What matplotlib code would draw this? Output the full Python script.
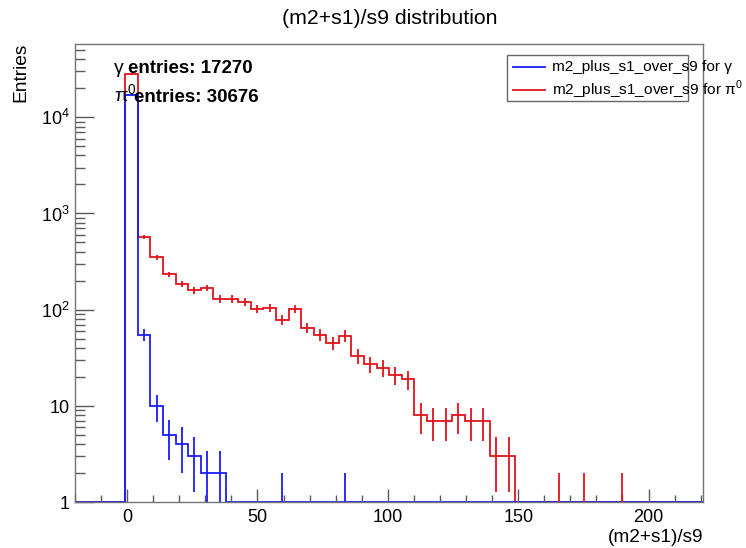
import numpy as np
import matplotlib
matplotlib.use('Agg')
import matplotlib.pyplot as plt
from matplotlib.ticker import FixedLocator, FixedFormatter, MultipleLocator, LogLocator, NullFormatter

plt.rcParams['font.family'] = ['Liberation Sans', 'DejaVu Sans']
plt.rcParams['mathtext.fontset'] = 'custom'
plt.rcParams['mathtext.rm'] = 'Liberation Sans'

# 50 bins between -20 and 221
x_lo, x_hi, nbins = -20.0, 221.0, 50
edges = np.linspace(x_lo, x_hi, nbins + 1)

# bin contents (index -> count)
gamma_counts = {4: 17188, 5: 55, 6: 10, 7: 5, 8: 4, 9: 3, 10: 2, 11: 2, 16: 1, 21: 1}
pi0_counts = {4: 27843, 5: 570, 6: 350, 7: 233, 8: 184, 9: 160, 10: 169, 11: 130,
              12: 130, 13: 121, 14: 103, 15: 105, 16: 79, 17: 102, 18: 65, 19: 55,
              20: 45, 21: 54, 22: 33, 23: 27, 24: 25, 25: 21, 26: 19, 27: 8, 28: 7,
              29: 7, 30: 8, 31: 7, 32: 7, 33: 3, 34: 3, 38: 1, 40: 1, 43: 1}
gamma_entries = 17270
pi0_entries = 30676

def to_array(d):
    a = np.zeros(nbins)
    for k, v in d.items():
        a[k] = v
    return a

h_gamma = to_array(gamma_counts)
h_pi0 = to_array(pi0_counts)

y_lo, y_hi = 1.0, 10 ** 4.76
red = '#e3121b'
blue = '#1a1aff'

fig = plt.figure(figsize=(7.46, 5.48), dpi=100)
ax = fig.add_axes([75 / 746, 1 - 502.3 / 548, (703.3 - 75) / 746, (502.3 - 44) / 548])
ax.set_yscale('log')
ax.set_xlim(x_lo, x_hi)
ax.set_ylim(y_lo, y_hi)

centers = 0.5 * (edges[:-1] + edges[1:])

def draw_hist(h, col):
    shown = np.where(h > 0, h, y_lo)
    ax.stairs(shown, edges, color=col, lw=1.3, baseline=None, clip_on=False)
    m = h > 0
    err = np.sqrt(h[m])
    lo = np.maximum(h[m] - err, 0.3)
    ax.vlines(centers[m], lo, h[m] + err, color=col, lw=1.3)

draw_hist(h_pi0, red)
draw_hist(h_gamma, blue)

# axes styling (ROOT look)
for s in ax.spines.values():
    s.set_color('0.45')
    s.set_linewidth(1.0)

ax.xaxis.set_major_locator(MultipleLocator(50))
ax.xaxis.set_minor_locator(MultipleLocator(10))
ax.tick_params(axis='x', which='major', direction='in', length=9.5, width=1, color='0.35',
               labelsize=13, pad=5)
ax.tick_params(axis='x', which='minor', direction='in', length=5, width=1, color='0.35')

ytick_vals = [1, 10, 100, 1000, 10000]
ytick_labs = ['1', '10', r'$\mathregular{10^{2}}$', r'$\mathregular{10^{3}}$', r'$\mathregular{10^{4}}$']
ax.yaxis.set_major_locator(FixedLocator(ytick_vals))
ax.yaxis.set_major_formatter(FixedFormatter(ytick_labs))
ax.yaxis.set_minor_locator(LogLocator(base=10, subs=np.arange(2, 10)))
ax.yaxis.set_minor_formatter(NullFormatter())
ax.tick_params(axis='y', which='major', direction='in', length=13.5, width=1, color='0.35',
               labelsize=13, pad=4)
ax.tick_params(axis='y', which='minor', direction='in', length=7, width=1, color='0.35')

fig.text(390 / 746, 1 - 18 / 548, '(m2+s1)/s9 distribution', ha='center', va='center', fontsize=15.3)
fig.text(703 / 746, 1 - 537 / 548, '(m2+s1)/s9', ha='right', va='center', fontsize=13.7)
fig.text(21 / 746, 1 - 43 / 548, 'Entries', ha='center', va='top', rotation=90, fontsize=13.8)

fig.text(114 / 746, 1 - 73 / 548, 'γ', fontsize=14)
fig.text(128 / 746, 1 - 73 / 548, 'entries: %d' % gamma_entries, fontsize=13.5, fontweight='bold')
fig.text(114 / 746, 1 - 101.7 / 548, 'π$^{0}$', fontsize=14)
fig.text(134 / 746, 1 - 101.7 / 548, 'entries: %d' % pi0_entries, fontsize=13.5, fontweight='bold')

# legend box and entries, ROOT style
box = plt.Rectangle((506.7 / 746, 1 - 100.7 / 548), (687.5 - 506.7) / 746, (100.7 - 55) / 548,
                    transform=fig.transFigure, fill=False, edgecolor='0.4', lw=1.0)
fig.add_artist(box)
leg_rows = [(66.7, blue, 'm2_plus_s1_over_s9 for γ'),
            (90.0, red, 'm2_plus_s1_over_s9 for π$^{0}$')]
for yy, col, txt in leg_rows:
    yf = 1 - yy / 548
    fig.add_artist(plt.Line2D([513 / 746, 545 / 746], [yf, yf], color=col, lw=1.3,
                              transform=fig.transFigure))
    fig.text(551.7 / 746, yf, txt, ha='left', va='center', fontsize=11.1)

fig.savefig('out.png', dpi=100)
